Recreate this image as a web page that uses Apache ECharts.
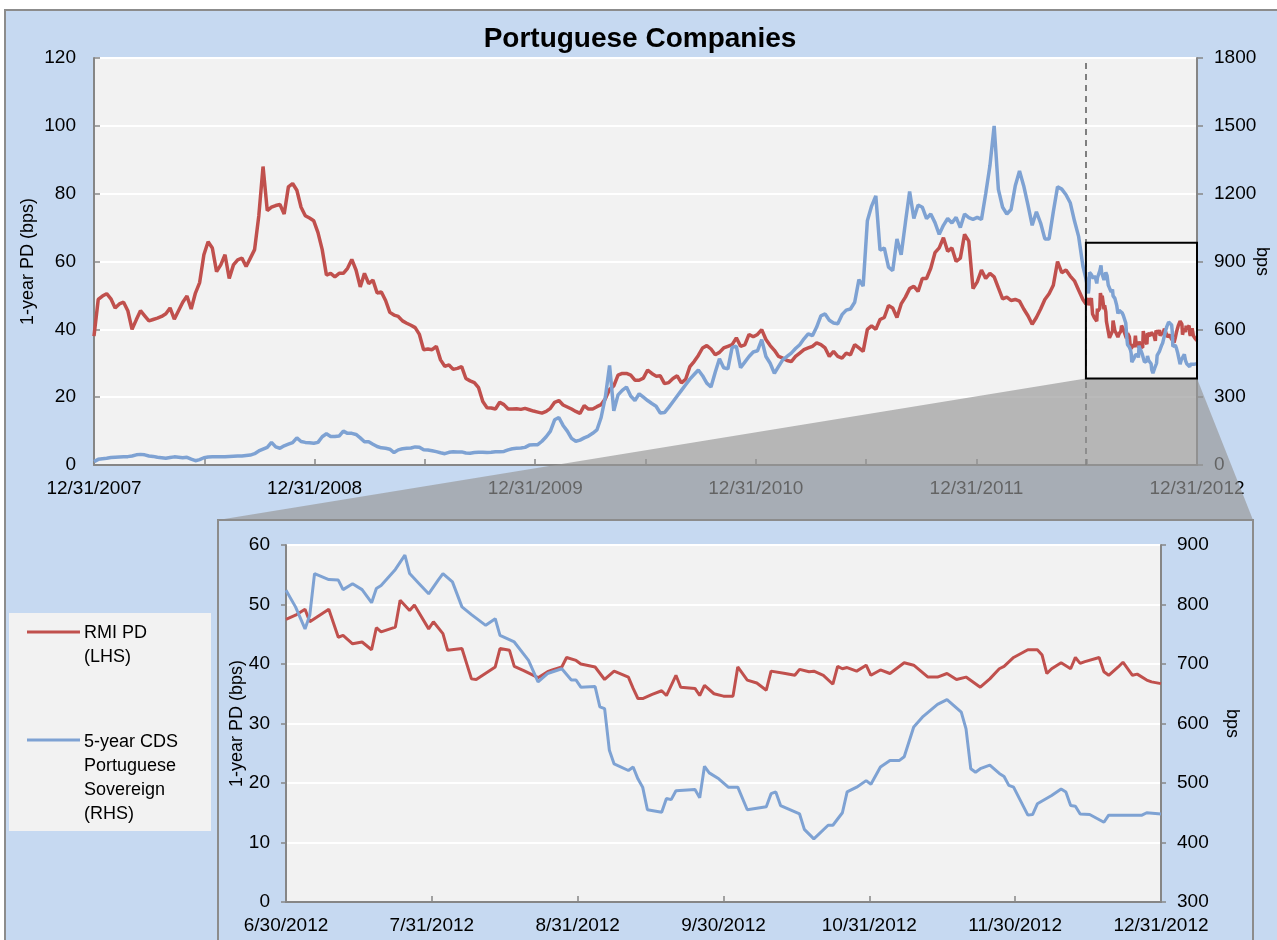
<!DOCTYPE html>
<html><head><meta charset="utf-8">
<script src="https://cdn.jsdelivr.net/npm/echarts@6/dist/echarts.min.js"></script>
<style>html,body{margin:0;padding:0;background:#fff}#c{width:1277px;height:940px}</style>
</head><body><div id="c"></div>
<script>
// ---------- DATA ----------
// Main chart: weekly readings starting 12/31/2007 (day 0), one value per 7 days
const rmiWeekly = [38,48.8,49.8,50.5,49,46.3,47.5,48,45.5,40,42.8,45.5,44,42.5,42.9,43.3,43.8,44.6,46.3,43,45.5,48,49.8,46,50.7,53.8,62,65.8,64,57,59,62,55,59,60.5,61,58.5,61,63.5,73.5,88,75,76,76.5,76.8,74,82,83,81,76,73.5,72.8,72,
68.5,63.5,56,56.5,55.5,56.5,56.5,58,60.6,57.5,52.5,56.5,53.5,54.5,50.7,51,48.5,45,44.2,43.8,42.5,41.8,41.2,40.5,38.5,34,34.2,34,35,31,29.1,29.5,28.2,28.5,29,25.5,24.8,24.3,22.8,18.7,16.9,16.8,16.5,18.5,17.8,16.5,16.5,16.6,16.4,16.7,16.3,15.9,
15.6,15.3,15.8,16.7,18.5,19,17.7,17.1,16.5,15.8,15.2,17.5,16.5,16.5,17.2,17.8,19.5,22.3,23.3,26.5,27,27,26.5,25,25,25.6,28,27,26.2,26.3,24,24.3,25.5,26.3,24.2,25.3,29,30.5,32.3,34.5,35.2,34.2,32.5,33.2,34.5,35,35.5,37.5,35,35.4,38.5,37.8,
38.5,39.9,37,35.2,33.8,32,31.5,30.8,30.5,32,33,34,34.5,35,36,35.5,34.5,32,33.5,32,31.5,33,32.5,35.5,34.5,33.5,40,41,40,42.9,43.5,47,46.3,43.5,47.5,49.5,52,52.7,51.2,55,55,58,62.6,64,67,63,64,60,61,68,66,52,
54,57.5,55,56.5,55.5,52.2,49,49.5,48.5,48.8,48.3,46,44,41.5,43.5,46,48.8,50.5,53,60,56.7,57.5,55.7,54.3,51.5,48.8];
const cdsWeekly = [15,25,28,30,33,34,35,36,37,40,45,47,45,40,38,34,32,30,33,36,34,32,34,26,19,24,32,35,36,37,37,37,38,39,40,40,42,44,50,62,70,78,100,80,74,85,92,99,120,104,100,98,96,
100,125,138,126,126,128,150,140,140,135,120,103,103,92,82,76,74,70,55,67,72,74,75,80,78,67,66,63,59,54,50,56,59,58,58,53,52,55,56,56,55,56,59,59,60,67,72,74,75,78,88,90,
90,105,125,150,200,210,175,150,118,105,110,120,128,140,155,210,300,440,240,310,330,345,305,285,315,300,285,272,260,230,232,255,280,305,330,355,380,400,420,395,362,345,410,470,430,425,520,525,430,455,480,500,
505,554,480,450,405,436,466,480,495,515,532,558,580,572,610,660,668,640,628,625,665,685,690,720,820,791,1080,1145,1190,950,960,875,860,1000,930,1072,1210,1090,1150,1140,1090,1110,1072,1020,1060,1090,1070,1095,1050,1110,1094,1086,
1095,1086,1200,1323,1500,1219,1140,1110,1130,1235,1300,1234,1150,1060,1120,1070,1000,1000,1120,1230,1220,1195,1160,1080,1010,880];
// Inset (6/30/2012 - 12/31/2012): day offset from 6/30/2012 and value
const insetRmiDay = [0,2,4,5,9,11,12,14,16,18,19,20,23,24,26,27,30,31,33,34,37,39,40,44,45,47,48,50,53,55,56,58,59,61,62,65,67,69,72,73,74,75,77,79,80,82,83,86,87,88,90,92,94,95,97,99,101,102,105,107,108,110,111,113,115,116,117,118,120,122,123,125,127,130,132,135,137,139,141,143,146,148,150,151,153,156,158,159,160,161,163,165,166,167,168,171,172,173,175,176,178,179,181,182,184];
const insetRmi = [47.5,48.2,49.2,47.1,49.2,44.5,44.8,43.4,43.7,42.4,46.1,45.4,46.2,50.7,49,49.9,45.9,47.1,45.1,42.3,42.6,37.5,37.4,39.5,42.6,42.3,39.6,38.9,37.7,38.7,39,39.5,41.1,40.6,40,39.5,37.4,38.8,37.8,35.9,34.2,34.2,34.9,35.5,34.7,38.1,36.1,35.9,34.7,36.4,35,34.6,34.6,39.5,37.3,36.8,35.6,38.8,38.4,38.1,39.1,38.7,38.8,38.1,36.6,39.6,39.2,39.4,38.8,39.8,38.1,39,38.4,40.2,39.8,37.8,37.8,38.4,37.4,37.8,36.1,37.5,39.2,39.6,41.1,42.4,42.4,41.5,38.4,39.2,40.2,39.2,41.1,40.1,40.4,41.1,38.7,38.1,39.5,40.3,38.1,38.3,37.3,37,36.7];
const insetCdsDay = [0,2,4,5,6,9,11,12,14,16,18,19,20,23,25,26,28,30,32,33,35,37,39,42,44,45,48,51,53,55,58,60,61,62,65,66,67,68,69,72,73,74,75,76,79,80,81,82,86,87,88,89,91,93,95,97,101,102,103,104,108,109,111,114,115,117,118,120,122,123,125,127,129,130,132,134,137,139,142,143,144,145,146,148,150,151,152,153,156,157,158,161,163,164,165,166,167,169,172,173,180,181,184];
const insetCds = [824,796,759,782,852,842,841,825,835,825,803,827,832,859,883,852,835,818,841,852,838,796,783,765,776,748,737,706,670,684,692,673,673,661,662,628,625,555,532,521,527,507,493,455,451,474,472,487,489,475,528,517,507,493,493,455,460,482,485,462,448,422,406,429,429,450,485,493,504,498,527,538,538,544,594,612,632,640,619,591,524,518,524,530,516,511,496,493,446,447,465,479,490,485,462,461,448,447,434,446,446,450,448];
const mainTickLabels = ['12/31/2007','12/31/2008','12/31/2009','12/31/2010','12/31/2011','12/31/2012'];
const insetTickLabels = ['6/30/2012','7/31/2012','8/31/2012','9/30/2012','10/31/2012','11/30/2012','12/31/2012'];
const MAIN_DAYS = 1827;          // 12/31/2007 -> 12/31/2012
const INSET_START = 1643;        // 6/30/2012 as day offset
const INSET_DAYS = 184;          // 6/30/2012 -> 12/31/2012
const zoomBoxRange = [25.5, 65.5]; // LHS range of highlighted box
const seriesNames = ['RMI PD\n(LHS)', '5-year CDS\nPortuguese\nSovereign\n(RHS)'];

// ---------- CHART ----------
const FONT = '"Liberation Sans", Arial, sans-serif';
const RED = '#c0504d', BLUE = '#7ea2d3', AXIS = '#868686', BG = '#c6d9f1', PLOT = '#f2f2f2';
const mainRmi = rmiWeekly.map((v, i) => [i * 7, v]).concat(insetRmiDay.map((d, k) => [INSET_START + d, insetRmi[k]]));
const mainCds = cdsWeekly.map((v, i) => [i * 7, v]).concat(insetCdsDay.map((d, k) => [INSET_START + d, insetCds[k]]));
const inRmi = insetRmiDay.map((d, k) => [d, insetRmi[k]]);
const inCds = insetCdsDay.map((d, k) => [d, insetCds[k]]);

const lbl = (extra) => Object.assign({ color: '#000', fontSize: 19, fontFamily: FONT }, extra);
const chart = echarts.init(document.getElementById('c'), null, { renderer: 'canvas' });
const mainStep = MAIN_DAYS / 10, inStep = INSET_DAYS / 6;
const plain = v => String(v);

chart.setOption({
  animation: false,
  backgroundColor: BG,
  grid: [
    { left: 94, right: 80, top: 58, height: 407, show: true, backgroundColor: PLOT, borderWidth: 0, outerBoundsMode: 'none', containLabel: false },
    { left: 286, right: 116, top: 545, height: 357, show: true, backgroundColor: PLOT, borderWidth: 0, z: 13, outerBoundsMode: 'none', containLabel: false }
  ],
  xAxis: [
    { type: 'value', gridIndex: 0, min: 0, max: MAIN_DAYS, interval: mainStep,
      axisLine: { lineStyle: { color: AXIS, width: 2 } },
      axisTick: { inside: true, length: 6, lineStyle: { color: AXIS, width: 1.5 } },
      axisLabel: lbl({ margin: 14, showMinLabel: true, showMaxLabel: true,
        formatter: v => { const k = Math.round(v / mainStep); return k % 2 === 0 ? mainTickLabels[k / 2] : ''; } }),
      splitLine: { show: false } },
    { type: 'value', gridIndex: 1, min: 0, max: INSET_DAYS, interval: inStep, z: 13,
      axisLine: { lineStyle: { color: AXIS, width: 2 } },
      axisTick: { inside: true, length: 6, lineStyle: { color: AXIS, width: 1.5 } },
      axisLabel: lbl({ margin: 14, showMinLabel: true, showMaxLabel: true,
        formatter: v => insetTickLabels[Math.round(v / inStep)] }),
      splitLine: { show: false } }
  ],
  yAxis: [
    { type: 'value', gridIndex: 0, min: 0, max: 120, interval: 20, position: 'left',
      name: '1-year PD (bps)', nameLocation: 'middle', nameGap: 57, nameMoveOverlap: false, nameTextStyle: lbl({ fontSize: 18 }),
      axisLine: { show: true, lineStyle: { color: AXIS, width: 2 } },
      axisTick: { show: true, inside: true, length: 6, lineStyle: { color: AXIS, width: 1.5 } },
      axisLabel: lbl({ margin: 18, formatter: plain }),
      splitLine: { lineStyle: { color: '#ffffff', width: 2 } } },
    { type: 'value', gridIndex: 0, min: 0, max: 1800, interval: 300, position: 'right',
      name: 'bps', nameLocation: 'middle', nameGap: 56, nameRotate: -90, nameMoveOverlap: false, nameTextStyle: lbl({ fontSize: 18 }),
      axisLine: { show: true, lineStyle: { color: AXIS, width: 2 } },
      axisTick: { show: true, length: 6, lineStyle: { color: AXIS, width: 1.5 } },
      axisLabel: lbl({ margin: 17, formatter: plain }),
      splitLine: { show: false } },
    { type: 'value', gridIndex: 1, min: 0, max: 60, interval: 10, position: 'left', z: 13,
      name: '1-year PD (bps)', nameLocation: 'middle', nameGap: 40, nameMoveOverlap: false, nameTextStyle: lbl({ fontSize: 18 }),
      axisLine: { show: true, lineStyle: { color: AXIS, width: 2 } },
      axisTick: { show: true, length: 5, lineStyle: { color: AXIS, width: 1.5 } },
      axisLabel: lbl({ margin: 16, formatter: plain }),
      splitLine: { lineStyle: { color: '#ffffff', width: 2 } } },
    { type: 'value', gridIndex: 1, min: 300, max: 900, interval: 100, position: 'right', z: 13,
      name: 'bps', nameLocation: 'middle', nameGap: 62, nameRotate: -90, nameMoveOverlap: false, nameTextStyle: lbl({ fontSize: 18 }),
      axisLine: { show: true, lineStyle: { color: AXIS, width: 2 } },
      axisTick: { show: true, length: 5, lineStyle: { color: AXIS, width: 1.5 } },
      axisLabel: lbl({ margin: 16, formatter: plain }),
      splitLine: { show: false } }
  ],
  series: [
    { name: seriesNames[0], type: 'line', xAxisIndex: 0, yAxisIndex: 0, data: mainRmi, showSymbol: false,
      lineStyle: { color: RED, width: 3.5 }, itemStyle: { color: RED },
      markLine: { silent: true, symbol: 'none', label: { show: false },
        lineStyle: { color: '#5a5a5a', type: [6, 5], width: 1.5 }, data: [{ xAxis: INSET_START }] } },
    { name: seriesNames[1], type: 'line', xAxisIndex: 0, yAxisIndex: 1, data: mainCds, showSymbol: false,
      lineStyle: { color: BLUE, width: 3.5 }, itemStyle: { color: BLUE } },
    { name: seriesNames[0], type: 'line', xAxisIndex: 1, yAxisIndex: 2, data: inRmi, showSymbol: false, z: 14,
      lineStyle: { color: RED, width: 3 }, itemStyle: { color: RED } },
    { name: seriesNames[1], type: 'line', xAxisIndex: 1, yAxisIndex: 3, data: inCds, showSymbol: false, z: 14,
      lineStyle: { color: BLUE, width: 3 }, itemStyle: { color: BLUE } }
  ]
});

// Zoom box and connector derived from the main chart's scales
const bl = chart.convertToPixel({ xAxisIndex: 0, yAxisIndex: 0 }, [INSET_START, zoomBoxRange[0]]);
const tr = chart.convertToPixel({ xAxisIndex: 0, yAxisIndex: 0 }, [MAIN_DAYS, zoomBoxRange[1]]);
const INSET_BOX = { x: 218, y: 520, w: 1035, h: 440 };
const txt = (x, y, t, extra) => ({ type: 'text', x, y, z: 16,
  style: Object.assign({ text: t, fill: '#000', fontSize: 18, fontFamily: FONT, align: 'left', verticalAlign: 'middle' }, extra) });
const legendText = (x, y, lines) => lines.map((t, i) => txt(x, y + i * 24, t));

chart.setOption({
  graphic: [
    { type: 'rect', z: 20, shape: { x: 0, y: 0, width: 1277, height: 10 }, style: { fill: '#fff' } },
    { type: 'rect', z: 20, shape: { x: 0, y: 0, width: 5, height: 940 }, style: { fill: '#fff' } },
    { type: 'polyline', z: 20, shape: { points: [[5, 940], [5, 10], [1277, 10]] }, style: { stroke: '#8c8c8c', lineWidth: 2, fill: null } },
    txt(640, 39, 'Portuguese Companies', { align: 'center', fontSize: 28, fontWeight: 'bold' }),
    { type: 'polygon', z: 10, shape: { points: [[bl[0], bl[1]], [tr[0], bl[1]], [INSET_BOX.x + INSET_BOX.w, INSET_BOX.y], [INSET_BOX.x, INSET_BOX.y]] },
      style: { fill: 'rgba(150,150,150,0.66)' } },
    { type: 'rect', z: 11, shape: { x: bl[0], y: tr[1], width: tr[0] - bl[0], height: bl[1] - tr[1] },
      style: { fill: null, stroke: '#000', lineWidth: 2 } },
    { type: 'rect', z: 12, shape: { x: INSET_BOX.x, y: INSET_BOX.y, width: INSET_BOX.w, height: INSET_BOX.h },
      style: { fill: BG, stroke: '#8c8c8c', lineWidth: 2 } },
    { type: 'rect', z: 12, shape: { x: 9, y: 613, width: 202, height: 218 }, style: { fill: PLOT } },
    { type: 'line', z: 16, shape: { x1: 27, y1: 632, x2: 80, y2: 632 }, style: { stroke: RED, lineWidth: 3 } },
    { type: 'line', z: 16, shape: { x1: 27, y1: 740, x2: 80, y2: 740 }, style: { stroke: BLUE, lineWidth: 3 } }
  ].concat(legendText(84, 633, seriesNames[0].split('\n')), legendText(84, 742, seriesNames[1].split('\n')))
});
</script></body></html>
